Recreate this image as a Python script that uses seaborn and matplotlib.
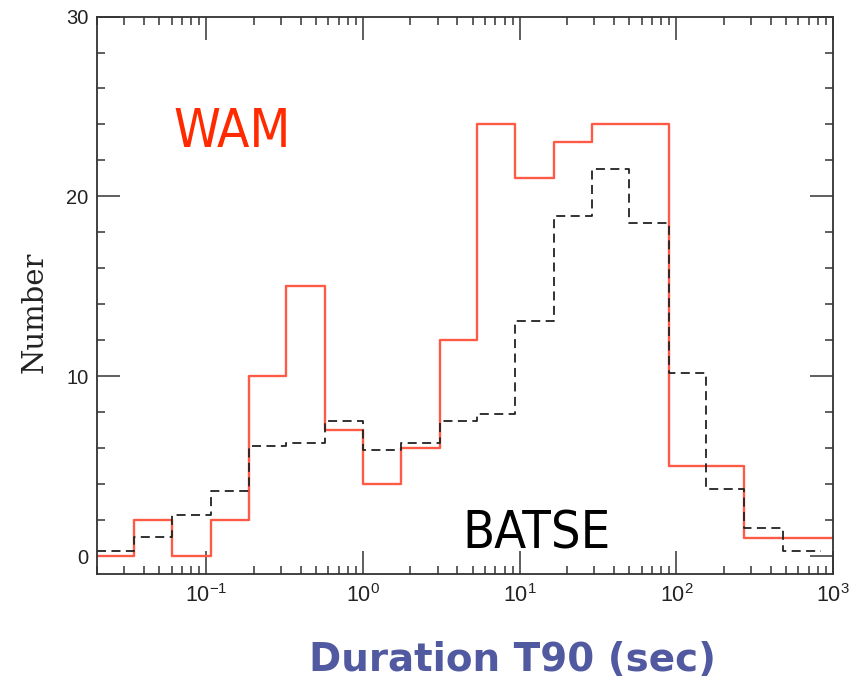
import numpy as np
import pandas as pd
import matplotlib
matplotlib.use("Agg")
import matplotlib.pyplot as plt
from matplotlib.ticker import LogLocator, MultipleLocator, NullFormatter
import seaborn as sns

# ---- data ----
log_edges = [-1.70, -1.46, -1.22, -0.97, -0.73, -0.49, -0.24, 0.0, 0.24, 0.49,
             0.73, 0.97, 1.22, 1.46, 1.70, 1.95, 2.19, 2.43, 2.68, 2.92, 3.16]
wam_counts = [0, 2, 0, 2, 10, 15, 7, 4, 6, 12, 24, 21, 23, 24, 24, 5, 5, 1, 1, 1]
batse_counts = [0.32, 1.05, 2.3, 3.65, 6.15, 6.3, 7.5, 5.9, 6.3, 7.5, 7.9, 13.1,
                18.9, 21.5, 18.5, 10.2, 3.75, 1.6, 0.3]
y_ticks = [0, 10, 20, 30]

sns.set_theme(style="ticks")
plt.rcParams["font.family"] = ["Liberation Sans", "DejaVu Sans"]
plt.rcParams["mathtext.fontset"] = "custom"
plt.rcParams["mathtext.rm"] = "Liberation Sans"
plt.rcParams["mathtext.it"] = "Liberation Sans:italic"
plt.rcParams["mathtext.bf"] = "Liberation Sans:bold"

edges = 10 ** np.array(log_edges)


def step_frame(counts):
    n = len(counts)
    x = edges[: n + 1]
    y = list(counts) + [counts[-1]]
    return pd.DataFrame({"x": x, "y": y})


fig = plt.figure(figsize=(8.63, 6.80), dpi=100)
ax = fig.add_axes([0.1121, 0.1554, 0.8532, 0.8203])

sns.lineplot(data=step_frame(wam_counts), x="x", y="y", ax=ax, estimator=None,
             sort=False, drawstyle="steps-post", color="#FF5A46", linewidth=1.7)
sns.lineplot(data=step_frame(batse_counts), x="x", y="y", ax=ax, estimator=None,
             sort=False, drawstyle="steps-post", color="#222222", linewidth=1.3,
             linestyle=(0, (5, 3)))

ax.set_xscale("log")
ax.set_xlim(10 ** -1.70, 1000)
ax.set_ylim(-1, 30)

ax.xaxis.set_major_locator(LogLocator(base=10, numticks=10))
ax.xaxis.set_minor_locator(LogLocator(base=10, subs=np.arange(2, 10), numticks=20))
ax.xaxis.set_minor_formatter(NullFormatter())
ax.set_yticks(y_ticks)
ax.set_yticklabels([str(v) for v in y_ticks])
ax.yaxis.set_minor_locator(MultipleLocator(2))

for s in ax.spines.values():
    s.set_color("#333333")
    s.set_linewidth(1.3)
    s.set_visible(True)

ax.tick_params(which="both", direction="in", top=True, right=True,
               color="#333333", width=1.1)
ax.tick_params(which="major", length=16.5)
ax.tick_params(which="minor", length=5.5)
ax.tick_params(axis="x", which="major", labelsize=15.5, pad=7, labelcolor="#222222")
ax.tick_params(axis="y", which="major", labelsize=14.5, pad=6, labelcolor="#222222")

ax.set_ylabel("Number", family="DejaVu Serif", fontsize=21, color="#222222",
              va="baseline")
ax.yaxis.set_label_coords(-0.0729, 0.469)
ax.set_xlabel("Duration T90 (sec)", family="DejaVu Sans", fontweight="bold",
              fontsize=28, color="#5159A0", va="baseline")
ax.xaxis.set_label_coords(0.565, -0.174)

ax.text(0.1036, 0.766, "WAM", transform=ax.transAxes, color="#FF2A00",
        fontsize=38, family="DejaVu Sans", fontstretch="condensed",
        ha="left", va="baseline")
ax.text(0.496, 0.0466, "BATSE", transform=ax.transAxes, color="black",
        fontsize=37.5, family="DejaVu Sans", fontstretch="condensed",
        ha="left", va="baseline")

fig.savefig("out.png", dpi=100)
